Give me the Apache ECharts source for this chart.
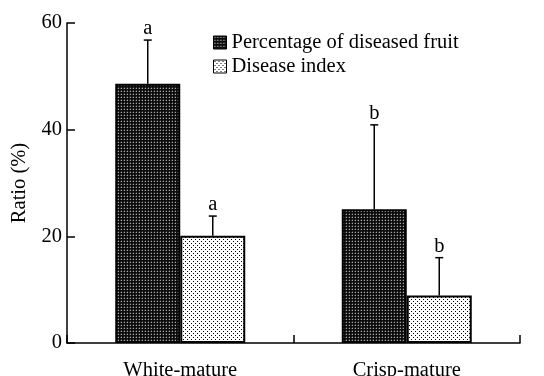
<!DOCTYPE html>
<html>
<head>
<meta charset="utf-8">
<script src="https://cdn.jsdelivr.net/npm/echarts@6/dist/echarts.min.js"></script>
<style>html,body{margin:0;padding:0;background:#fff}#c{width:544px;height:376px}</style>
</head>
<body>
<div id="c"></div>
<script>
const categories = ['White-mature', 'Crisp-mature'];
const seriesNames = ['Percentage of diseased fruit', 'Disease index'];
const diseasedFruit = [48.6, 25.1];
const diseasedFruitErrTop = [56.8, 40.9];
const diseaseIndex = [20.1, 8.9];
const diseaseIndexErrTop = [23.8, 16.0];
const diseasedFruitLetters = ['a', 'b'];
const diseaseIndexLetters = ['a', 'b'];
const yTicks = [0, 20, 40, 60];

function makeDark() {
  const c = document.createElement('canvas'); c.width = 3; c.height = 3;
  const g = c.getContext('2d');
  g.fillStyle = '#0c0c0c'; g.fillRect(0, 0, 3, 3);
  g.fillStyle = '#3a3a3a'; g.fillRect(1, 0, 1, 1); g.fillRect(0, 1, 1, 1);
  g.fillStyle = '#a8a8a8'; g.fillRect(1, 1, 1, 1);
  return c;
}
function makeLight() {
  const c = document.createElement('canvas'); c.width = 4; c.height = 4;
  const g = c.getContext('2d');
  g.fillStyle = '#ffffff'; g.fillRect(0, 0, 4, 4);
  g.fillStyle = '#000000'; g.fillRect(1, 1, 1, 1); g.fillRect(3, 3, 1, 1);
  return c;
}
const darkPat = { image: makeDark(), repeat: 'repeat' };
const lightPat = { image: makeLight(), repeat: 'repeat' };

const FONT = 'Liberation Serif';
const FS = 20.5;
const BAR_W = 65;

function errSeries(vals, tops, letters, offset) {
  return {
    type: 'custom',
    silent: true,
    z: 5,
    data: vals.map((v, i) => [i, v, tops[i], letters[i]]),
    encode: { x: 0, y: [1, 2] },
    renderItem: function (params, api) {
      const i = api.value(0);
      const base = api.coord([i, api.value(1)]);
      const top = api.coord([i, api.value(2)]);
      const x = base[0] + offset;
      return {
        type: 'group',
        children: [
          { type: 'line', shape: { x1: x, y1: base[1], x2: x, y2: top[1] }, style: { stroke: '#000', lineWidth: 1.5 } },
          { type: 'line', shape: { x1: x - 4, y1: top[1], x2: x + 4, y2: top[1] }, style: { stroke: '#000', lineWidth: 1.5 } },
          { type: 'text', x: x, y: top[1] - 1, style: { text: letters[i], fontFamily: FONT, fontSize: FS, fill: '#000', align: 'center', verticalAlign: 'bottom' } }
        ]
      };
    }
  };
}

const chart = echarts.init(document.getElementById('c'), null, { renderer: 'canvas' });
chart.setOption({
  animation: false,
  backgroundColor: '#fff',
  textStyle: { fontFamily: FONT, color: '#000' },
  grid: { left: 67, right: 24, top: 23, bottom: 33, containLabel: false, outerBoundsMode: 'none' },
  legend: {
    data: seriesNames,
    orient: 'vertical',
    left: 213,
    top: 32,
    padding: 0,
    itemWidth: 13,
    itemHeight: 13,
    itemGap: 3,
    icon: 'rect',
    itemStyle: { borderColor: '#000', borderWidth: 1 },
    textStyle: { fontFamily: FONT, fontSize: FS, color: '#000', lineHeight: 20, padding: [0, 0, 0, 0] }
  },
  xAxis: {
    type: 'category',
    data: categories,
    boundaryGap: true,
    axisLine: { lineStyle: { color: '#000', width: 1.5 } },
    axisTick: { show: true, inside: true, length: 8, lineStyle: { color: '#000', width: 1.5 } },
    axisLabel: { fontFamily: FONT, fontSize: FS, color: '#000', margin: 17 },
    splitLine: { show: false }
  },
  yAxis: {
    type: 'value',
    min: yTicks[0],
    max: yTicks[yTicks.length - 1],
    interval: 20,
    name: 'Ratio (%)',
    nameLocation: 'middle',
    nameGap: 35,
    nameTextStyle: { fontFamily: FONT, fontSize: FS, color: '#000' },
    axisLine: { show: true, lineStyle: { color: '#000', width: 1.5 } },
    axisTick: { show: true, inside: true, length: 8, lineStyle: { color: '#000', width: 1.5 } },
    axisLabel: { fontFamily: FONT, fontSize: FS, color: '#000', margin: 5 },
    splitLine: { show: false }
  },
  series: [
    {
      name: seriesNames[0], type: 'bar', data: diseasedFruit, barWidth: BAR_W, barGap: '0%',
      itemStyle: { color: darkPat, borderColor: '#000', borderWidth: 2 }
    },
    {
      name: seriesNames[1], type: 'bar', data: diseaseIndex, barWidth: BAR_W, barGap: '0%',
      itemStyle: { color: lightPat, borderColor: '#000', borderWidth: 2 }
    },
    errSeries(diseasedFruit, diseasedFruitErrTop, diseasedFruitLetters, -BAR_W / 2),
    errSeries(diseaseIndex, diseaseIndexErrTop, diseaseIndexLetters, BAR_W / 2)
  ]
});
</script>
</body>
</html>
